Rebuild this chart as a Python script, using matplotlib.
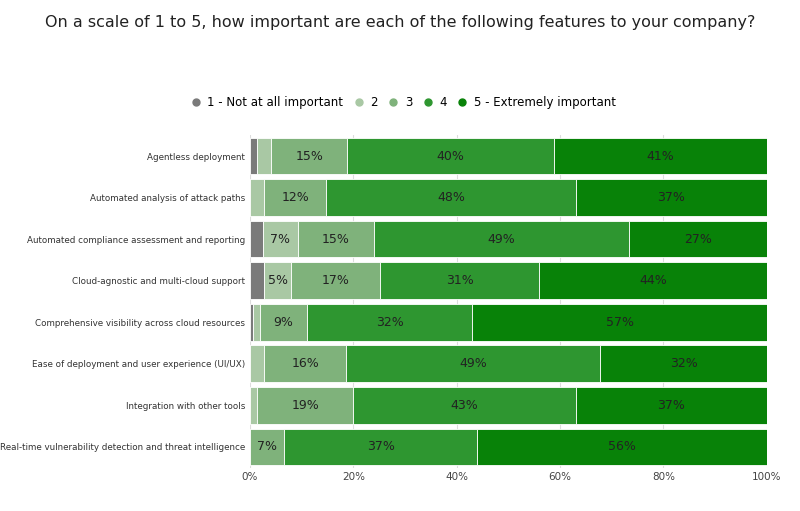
import matplotlib.pyplot as plt
import numpy as np

categories = [
    "Agentless deployment",
    "Automated analysis of attack paths",
    "Automated compliance assessment and reporting",
    "Cloud-agnostic and multi-cloud support",
    "Comprehensive visibility across cloud resources",
    "Ease of deployment and user experience (UI/UX)",
    "Integration with other tools",
    "Real-time vulnerability detection and threat intelligence",
]
series_names = ["1 - Not at all important", "2", "3", "4", "5 - Extremely important"]
score_1 = [1.4, 0, 2.6, 2.7, 0.5, 0, 0, 0]
score_2 = [2.7, 2.8, 6.6, 5.3, 1.4, 2.8, 1.4, 0]
score_3 = [14.7, 12.0, 14.8, 17.2, 9.1, 15.8, 18.6, 6.6]
score_4 = [40.0, 48.2, 49.3, 30.8, 32.0, 49.2, 43.0, 37.4]
score_5 = [41.2, 37.0, 26.7, 44.0, 57.0, 32.2, 37.0, 56.0]
colors = ["#7a7a7a", "#a9c8a4", "#7fb27b", "#2e9630", "#088208"]

data = np.array([score_1, score_2, score_3, score_4, score_5])
fig = plt.figure(figsize=(8, 5.11), dpi=100)
ax = fig.add_axes([0.3125, 0.085, 0.646, 0.65])
y = np.arange(len(categories))
left = np.zeros(len(categories))
for i, name in enumerate(series_names):
    ax.barh(y, data[i], left=left, height=0.88, color=colors[i],
            edgecolor="white", linewidth=0.6, label=name)
    for j, v in enumerate(data[i]):
        if v >= 4.5:
            ax.text(left[j] + v / 2, y[j], "%d%%" % round(v), ha="center",
                    va="center", fontsize=9, color="#222222")
    left += data[i]

ax.set_xlim(0, 100)
ax.set_ylim(len(categories) - 0.5, -0.5)
ax.set_yticks(y)
ax.set_yticklabels(categories, fontsize=6.3, color="#333333")
ax.set_xticks(np.arange(0, 101, 20))
ax.set_xticklabels(["%d%%" % t for t in range(0, 101, 20)], fontsize=7.5, color="#444444")
ax.tick_params(length=0)
ax.grid(axis="x", color="#dddddd", linewidth=0.8)
ax.set_axisbelow(True)
for s in ax.spines.values():
    s.set_visible(False)

handles = [plt.Line2D([], [], marker="o", linestyle="", color=c, markersize=5) for c in colors]
fig.legend(handles, series_names, loc="center", bbox_to_anchor=(0.5, 0.8),
           ncol=5, frameon=False, fontsize=8.5, handletextpad=0.0, columnspacing=0.3)
fig.suptitle("On a scale of 1 to 5, how important are each of the following features to your company?",
             x=0.5, y=0.97, fontsize=11.5, color="#222222")
fig.savefig("out.png", dpi=100, facecolor="white")
